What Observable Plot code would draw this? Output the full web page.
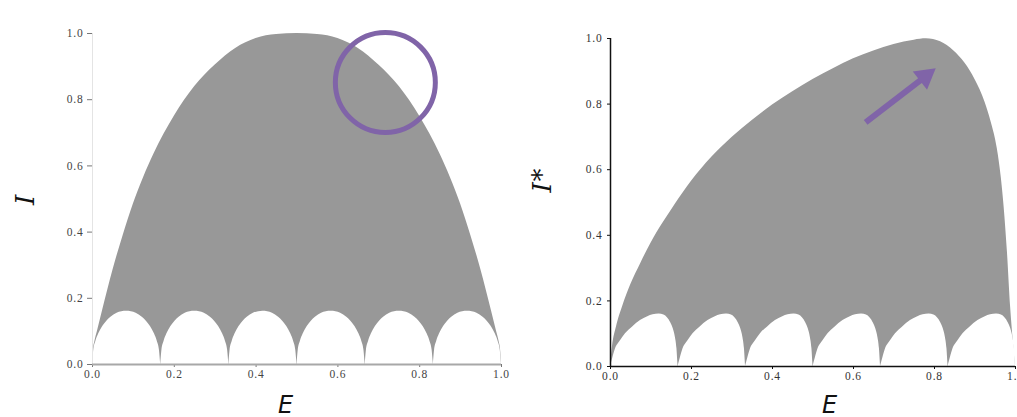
<!DOCTYPE html>
<html>
<head>
<meta charset="utf-8">
<script src="https://cdn.jsdelivr.net/npm/d3@7"></script>
<script src="https://cdn.jsdelivr.net/npm/@observablehq/plot@0.6"></script>
<style>
  body { margin: 0; background: #fff; }
  #wrap { position: relative; width: 1017px; height: 417px; overflow: hidden; background: #fff; }
</style>
</head>
<body>
<div id="wrap"></div>
<script>
// Axis ticks shared by both panels
const tickValues = [0, 0.2, 0.4, 0.6, 0.8, 1.0];

// Left panel: upper boundary of I over E
const upperLeftE = [0, 0.002, 0.006, 0.012, 0.025, 0.05, 0.075, 0.1, 0.125, 0.15, 0.2, 0.25, 0.3, 0.35, 0.4, 0.45, 0.5,
                    0.55, 0.6, 0.65, 0.7, 0.75, 0.8, 0.85, 0.875, 0.9, 0.925, 0.95, 0.975, 0.988, 0.994, 0.998, 1];
const upperLeftI = [0, 0.04, 0.07, 0.1, 0.165, 0.285, 0.39, 0.485, 0.565, 0.635, 0.75, 0.84, 0.905, 0.955, 0.985, 0.997, 1,
                    0.997, 0.985, 0.955, 0.905, 0.84, 0.75, 0.635, 0.565, 0.485, 0.39, 0.285, 0.165, 0.1, 0.07, 0.04, 0];

// Right panel: upper boundary of I* over E
const upperRightE = [0, 0.002, 0.005, 0.015, 0.03, 0.05, 0.075, 0.1, 0.13, 0.16, 0.2, 0.25, 0.3, 0.35, 0.4, 0.45,
                     0.5, 0.55, 0.6, 0.65, 0.7, 0.75, 0.78, 0.815, 0.848, 0.875, 0.9, 0.925, 0.94, 0.955, 0.965,
                     0.972, 0.98, 0.988, 0.995, 1];
const upperRightI = [0, 0.03, 0.062, 0.122, 0.183, 0.249, 0.315, 0.376, 0.438, 0.495, 0.565, 0.638, 0.698, 0.75, 0.797, 0.838,
                     0.875, 0.908, 0.938, 0.962, 0.982, 0.995, 0.999, 0.99, 0.962, 0.925, 0.875, 0.805, 0.745, 0.665, 0.575,
                     0.485, 0.35, 0.18, 0.07, 0];

// Lower boundary: six arches, one between each pair of cusps
const cusps = [0, 0.1667, 0.3333, 0.5, 0.6667, 0.8333];

// Arch profile of the left panel (offset from cusp, height)
const archLeftOffset = [0, 0.003, 0.008, 0.015, 0.025, 0.035, 0.045, 0.06, 0.0833,
                        0.1067, 0.1217, 0.1317, 0.1417, 0.1517, 0.1587, 0.1637, 0.1667];
const archLeftI = [0, 0.043, 0.069, 0.092, 0.115, 0.131, 0.143, 0.155, 0.161,
                   0.155, 0.143, 0.131, 0.115, 0.092, 0.069, 0.043, 0];

// Arch profile of the right panel (offset from cusp, height)
const archRightOffset = [0, 0.004, 0.011, 0.025, 0.037, 0.054, 0.074, 0.092, 0.105, 0.12, 0.132,
                         0.141, 0.149, 0.155, 0.16, 0.164, 0.1667];
const archRightI = [0, 0.018, 0.049, 0.079, 0.1, 0.12, 0.14, 0.152, 0.158, 0.16, 0.157,
                    0.148, 0.133, 0.115, 0.09, 0.055, 0];

// Highlight marks
const circleAt = {E: 0.716, I: 0.852};
const arrowAt = {E1: 0.63, I1: 0.744, E2: 0.777, I2: 0.884};

const purple = "#8064a8";
const gray = "#989898";
const fmt = d3.format(".1f");
const tickFont = "'Liberation Serif', 'Times New Roman', serif";

const toRows = (xs, ys) => xs.map((E, i) => ({E, I: ys[i]}));
const archRows = (offsets, heights) =>
  cusps.flatMap((c, k) => offsets.map((o, i) => ({k, E: c + o, I: heights[i]})));

const wrap = document.getElementById("wrap");

const left = Plot.plot({
  width: 515, height: 395,
  marginLeft: 92, marginRight: 14, marginTop: 33, marginBottom: 31,
  x: {domain: [0, 1]},
  y: {domain: [0, 1]},
  style: {position: "absolute", left: "0px", top: "0px", background: "transparent", letterSpacing: "0.8px",
          fontFamily: tickFont, fontSize: "11px", color: "#444", maxWidth: "none", overflow: "visible"},
  marks: [
    Plot.areaY(toRows(upperLeftE, upperLeftI), {x: "E", y: "I", fill: gray, curve: "monotone-x"}),
    Plot.areaY(archRows(archLeftOffset, archLeftI), {x: "E", y: "I", z: "k", fill: "#fff", curve: "monotone-x"}),
    Plot.ruleX([0], {stroke: "#e4e4e4"}),
    Plot.axisY({ticks: tickValues, tickFormat: fmt, tickSize: 5, tickPadding: 4, stroke: "#777", label: null,
      fontFamily: tickFont, fontSize: 11.5, fill: "#444"}),
    Plot.axisX({ticks: tickValues, tickFormat: fmt, tickSize: 3, tickPadding: 2, stroke: "#777", label: null,
      fontFamily: tickFont, fontSize: 11.5, fill: "#444"}),
    Plot.ruleY([0], {stroke: "#a8a8a8", strokeWidth: 2}),
    Plot.dot([circleAt], {x: "E", y: "I", r: 50, stroke: purple, strokeWidth: 5, fill: "none"}),
    Plot.text(["E"], {text: d => d, frameAnchor: "bottom", dx: -11, dy: 48, lineAnchor: "bottom",
      fontFamily: "'DejaVu Sans', sans-serif", fontStyle: "italic", fontSize: 24, fill: "#111"}),
    Plot.text(["I"], {text: d => d, frameAnchor: "left", rotate: -90, dx: -59, dy: 6, lineAnchor: "bottom",
      fontFamily: "'DejaVu Serif', serif", fontStyle: "italic", fontSize: 26, fill: "#111"})
  ]
});

const right = Plot.plot({
  width: 497, height: 395,
  marginLeft: 90, marginRight: 2, marginTop: 38, marginBottom: 29,
  x: {domain: [0, 1]},
  y: {domain: [0, 1]},
  style: {position: "absolute", left: "520px", top: "0px", background: "transparent", letterSpacing: "0.8px",
          fontFamily: tickFont, fontSize: "11px", color: "#333", maxWidth: "none", overflow: "visible"},
  marks: [
    Plot.areaY(toRows(upperRightE, upperRightI), {x: "E", y: "I", fill: gray, curve: "monotone-x"}),
    Plot.areaY(archRows(archRightOffset, archRightI), {x: "E", y: "I", z: "k", fill: "#fff", curve: "monotone-x"}),
    Plot.axisY({ticks: tickValues, tickFormat: fmt, tickSize: 3, tickPadding: 5, stroke: "#111", label: null,
      fontFamily: tickFont, fontSize: 11.5, fill: "#333"}),
    Plot.axisX({ticks: tickValues, tickFormat: fmt, tickSize: 3, tickPadding: 2, stroke: "#111", label: null,
      fontFamily: tickFont, fontSize: 11.5, fill: "#333"}),
    Plot.ruleX([0], {stroke: "#111", strokeWidth: 1.5}),
    Plot.ruleY([0], {stroke: "#111", strokeWidth: 1.5}),
    Plot.link([arrowAt], {x1: "E1", y1: "I1", x2: "E2", y2: "I2", stroke: purple, strokeWidth: 6}),
    Plot.dot([arrowAt], {x: "E2", y: "I2", symbol: "triangle", r: 8.6, fill: purple, rotate: 52}),
    Plot.text(["E"], {text: d => d, frameAnchor: "bottom", dx: 17, dy: 46, lineAnchor: "bottom",
      fontFamily: "'DejaVu Sans', sans-serif", fontStyle: "italic", fontSize: 24, fill: "#111"}),
    Plot.text(["I*"], {text: d => d, frameAnchor: "left", rotate: -90, dx: -60, dy: -10, lineAnchor: "bottom",
      fontFamily: "'DejaVu Serif', serif", fontStyle: "italic", fontSize: 26, fill: "#111"})
  ]
});

wrap.append(left, right);
</script>
</body>
</html>
